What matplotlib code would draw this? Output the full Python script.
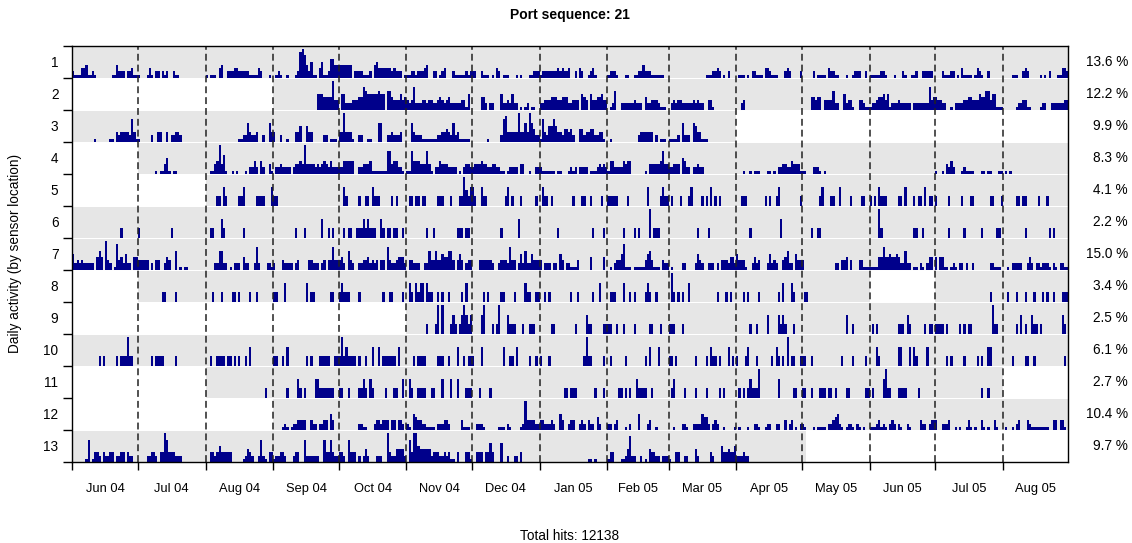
import matplotlib
matplotlib.use("Agg")
import matplotlib.pyplot as plt
import matplotlib.transforms as mtransforms
from matplotlib.patches import Rectangle
import numpy as np
import pandas as pd

plt.rcParams['font.family'] = ['Liberation Sans', 'DejaVu Sans']

# ---------------- data ----------------
title = "Port sequence: 21"
ylabel = "Daily activity (by sensor location)"
footer = "Total hits: 12138"
start_date = "2004-06-01"
n_days = 456
row_names = [str(i) for i in range(1, 14)]
row_share = ["13.6 %", "12.2 %", "9.9 %", "8.3 %", "4.1 %", "2.2 %", "15.0 %",
             "3.4 %", "2.5 %", "6.1 %", "2.7 %", "10.4 %", "9.7 %"]

# daily activity level (0-9 tenths of the row height), one string per month Jun 04 .. Aug 05
row1 = ["211133411210000000114222022311", "1000131022021200211000000000000",
        "1011103400222332222211113200010", "012100100012897425110351126644",
        "4444440222211120453333332322201", "112212223400220123000211111212",
        "2200211101032011100010100011222", "1222222232322300203200123100000",
        "1222100011001122422211111100", "0000000000000000011122320102000",
        "011101022111033211100023200002", "0000020111103221100010012220020",
        "111112210001000210011200222220", "0002111220103111101321002000000",
        "000011100232000001010200011332"]
row2 = ["", "", "", "000000000000000000005554444933",
        "0552223334476555556550664333534", "323722233233223432342222233150",
        "0000442022000522325220101201100", "2233344433444223330543053344533",
        "0126002222223222042233321110", "0232332222232322003310000000000",
        "0023", "0000443440333362200523310033211",
        "122344535122232222202222222734", "4332200102222334433354466355111",
        "000000122331100001220022222233"]
row3 = ["000000000010000001103233332731", "1000002003300302233200000000000",
        "0000000000000001122632230020063", "300200100033500533000002201110",
        "3393331002200110006600223222300", "006322211111112233432623111110",
        "0000000100000278333339336396422", "1732557533244342004423344223310",
        "0100000000000023333330201110", "1111206222065331110",
        "", "", "", "", ""]
row4 = ["", "0000000010113510110",
        "0011349361001010001022420420031", "022322220233439333323234324222",
        "2244444002233341111111773442210", "117444333731022433322220102332",
        "2333433223322110122220330010022", "2111111011000121202222011123232",
        "1442222434400000010333334733", "2233305422022322",
        "000100101110001101022332243331", "110002221010",
        "", "1001032420001211110001101100011", "0101"]
row5 = ["", "", "0000033063000003360000033330006", "33",
        "0063000003003306333000003030000", "033033033000003330003000339536",
        "6300633000000003603000300000030", "0633030000000003000330030000300",
        "3333300003000000006000003633", "0300030003600003030603030000000",
        "003330000000030300360000000003", "0000000036000330060000300003300",
        "303063330000033060003033060330", "3000003000003000330000000330003",
        "000000330330000030003"]
row6 = ["00000000000000000000003", "3000000000000003",
        "003300063000000003", "000000000030003000000060030300",
        "0030330033363633300630330330030", "000000000300300000000003330330",
        "0000000000000300000006", "000000003000000000000000300003",
        "0000000300003030000903330000", "0000000000000300003",
        "000000300000000000006", "0000300330",
        "000093000000000000003300300000", "0000003000000300000003000000330",
        "000000000030000000000303"]
row7 = ["523232222204640932018342522044", "3333302033002430060101100000000",
        "0000226622010222042200272000221", "200032222023000033222023033733",
        "3420632002233423230330732234442", "033222002263363354466303530233",
        "0003333332002333273302526225333", "3022202205302211130000040000040",
        "0102335811101111135631110322", "0100002200002532002220203332442",
        "533310024230002523200346220533", "3000000000000002203340300033111",
        "111144744544542262201102102440", "4044110121022020020000000221110",
        "001022222002420221222102102211"]
row8 = ["", "000000000003300003",
        "000300030000330300003003", "330006000000000603300000003300",
        "3633300003000000000030033000030", "063063660633003030030000030600",
        "0000030300000330000300006330033", "0030300000000030030000003006",
        "0333000600303000036300300000", "0930303006000000000000300030300",
        "000303000030000000030600063000", "033",
        "", "00000000000000000000000003",
        "003000300030003000303003000333"]
row9 = ["", "", "", "", "",
        "000000000300039090003630369636", "0000690003039000633300030033300",
        "0000033000000000300006330000033", "3300300300003000000330003000",
        "3330003", "000000300300006000063630003000",
        "0000000000000000000060030000000", "030300000000033306300000030330",
        "3333030000030303300000000093300", "000000306030063303000000000630"]
row10 = ["000000000000303000003033393300", "000000303333000003",
         "0030033330330303003060000000000", "330030600000000303000333330033",
         "3936333303003006006033333306000", "000303333000003330030006003033",
         "3000600000000060033060000030030", "3000300000000000000039330000030",
         "0300000030000000030600060000", "3303000000003000030633030006030",
         "300036000300000030630309033003", "3300300000000000003000030000030",
         "000630000000066000606300006000", "0000030300000300000303006600000",
         "000030000033003000000000000030"]
row11 = ["", "", "0000000000000000000000000003",
         "000000300006303000066333333300", "3300300003363063000003000330060",
         "063003333003300060006006000333", "000300003",
         "0000000000033033300000000300030", "0000033030300633330030000000",
         "0360000300003000030000030300000", "030303633390000000060000003300",
         "3300300033303303000033000000033", "030000693300033330000030000000",
         "0000000000000000000003003", ""]
row12 = ["", "", "", "000012101223333003220223305300",
         "0000000002211000233233303303320", "210543322111102223320000031110",
         "0022210000001110210000129333322", "3322232005300233002320322042000",
         "2202300010200050002300100000", "0010002210022225442023200100001",
         "010001002210012200220030230102", "2100010111102234521012210210100",
         "111231210232021002100003220233", "3002223001010013101003101003100",
         "010010230003211111111003303310"]
row13 = ["000000170133203223302233032200", "0000223320339733322200000000000",
         "0033235333330000012432002721033", "122332000233007222222007337322",
         "3320733302024200022200932244442", "073995444442333223231103000331",
         "0033303363000600200220300000000", "0000000000000000000000110100000",
         "1330001124822002010433220222", "1003300220004200000320005334335",
         "2223220", "", "", "", ""]

# periods with an active sensor (grey background)
span_row = [1, 2, 3, 4, 5, 6, 7, 8, 8, 9, 10, 11, 12, 13]
span_start = ["2004-06-01", "2004-09-01", "2004-06-01", "2004-07-01", "2004-08-01",
              "2004-06-01", "2004-06-01", "2004-07-01", "2005-07-01", "2004-11-01",
              "2004-06-01", "2004-08-01", "2004-09-01", "2004-06-01"]
span_end = ["2005-08-31", "2005-08-31", "2005-04-01", "2005-08-31", "2005-08-31",
            "2005-08-31", "2005-08-31", "2005-06-01", "2005-08-31", "2005-08-31",
            "2005-08-31", "2005-08-01", "2005-08-31", "2005-05-03"]

rows = [row1, row2, row3, row4, row5, row6, row7, row8, row9, row10, row11, row12, row13]

# ---------------- layout ----------------
W, H = 1132, 543
navy = "#00008B"
grey = "#E6E6E6"
fs = 9.8
fs_month = 9.3

t0 = pd.Timestamp(start_date)
month_starts = pd.date_range(start_date, "2005-08-01", freq="MS")
m_off = np.array([(d - t0).days for d in month_starts])
m_len = np.diff(np.append(m_off, n_days))
month_labels = [d.strftime("%b %y") for d in month_starts]
n_rows = len(rows)

fig = plt.figure(figsize=(W / 100, H / 100), dpi=100)
ax = fig.add_axes([72.3 / W, 1 - 462 / H, (1068.3 - 72.3) / W, (462 - 45.7) / H])
ax.set_xlim(0, n_days)
ax.set_ylim(0, n_rows)

for r, s, e in zip(span_row, span_start, span_end):
    base = n_rows - r
    xs = (pd.Timestamp(s) - t0).days
    xe = min((pd.Timestamp(e) - t0).days, n_days)
    ax.add_patch(Rectangle((xs, base), xe - xs, 0.96, facecolor=grey,
                           edgecolor='none', zorder=1))

x = np.arange(n_days)
for i, months in enumerate(rows):
    vals = "".join(m.ljust(L, "0")[:L] for m, L in zip(months, m_len))
    h = np.array([int(c) for c in vals]) / 10.0
    base = n_rows - 1 - i
    nz = h > 0
    ax.bar(x[nz], h[nz], width=1.0, bottom=base, align='edge', color=navy,
           linewidth=0, zorder=2)

for off in m_off[1:]:
    ax.axvline(off, color="#222222", lw=1.1, ls=(0, (4.5, 2.6)), zorder=3)

# axes styling
for sp in ax.spines.values():
    sp.set_linewidth(1.0)
    sp.set_color("black")
    sp.set_zorder(4)

ax.set_yticks(np.arange(n_rows + 1))
ax.set_yticklabels([])
ax.set_yticks(np.arange(n_rows) + 0.5, minor=True)
ax.set_yticklabels(row_names[::-1], minor=True, fontsize=fs)
ax.tick_params(axis='y', which='major', length=6.5, width=1.0, direction='out')
ax.tick_params(axis='y', which='minor', length=0, pad=10)

ax.set_xticks(m_off)
ax.set_xticklabels([])
ax.set_xticks(m_off + m_len / 2.0, minor=True)
ax.set_xticklabels(month_labels, minor=True, fontsize=fs_month)
ax.tick_params(axis='x', which='major', length=5.8, width=1.0, direction='out')
ax.tick_params(axis='x', which='minor', length=0, pad=14.8)

trans = mtransforms.blended_transform_factory(fig.transFigure, ax.transData)
for i, lab in enumerate(row_share):
    ax.text(1128 / W, n_rows - 0.5 - i, lab, transform=trans, ha='right',
            va='center', fontsize=fs, clip_on=False)

fig.text(570 / W, 1 - 15 / H, title, ha='center', va='center', fontsize=10,
         fontweight='bold')
fig.text(15 / W, 1 - 253 / H, ylabel, ha='center', va='center', rotation=90,
         fontsize=fs)
fig.text(570 / W, 1 - 536 / H, footer, ha='center', va='center', fontsize=fs)

fig.savefig("out.png", dpi=100)
